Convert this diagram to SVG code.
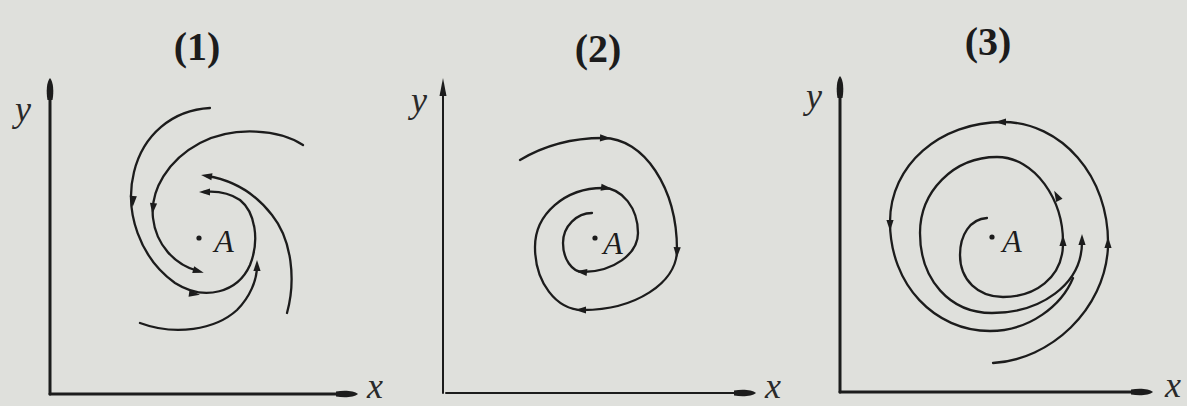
<svg xmlns="http://www.w3.org/2000/svg" xmlns:xlink="http://www.w3.org/1999/xlink" width="1187" height="406" viewBox="0 0 1187 406">
<style>
.bg{fill:#dfe0dc}
.axis{stroke:#1c1c1c;stroke-width:3;fill:none;stroke-linecap:round}
.axis.thin{stroke-width:2}
.traj{stroke:#1c1c1c;stroke-width:2.3;fill:none;stroke-linecap:round}
.ink{fill:#1c1c1c}
.title{font-family:"Liberation Serif",serif;font-weight:bold;font-size:40px;fill:#1c1c1c;text-anchor:middle}
.lab{font-family:"Liberation Serif",serif;font-style:italic;font-size:36px;fill:#2a2a2a;text-anchor:middle}
.pt{font-family:"Liberation Serif",serif;font-style:italic;font-size:32px;fill:#1c1c1c;text-anchor:middle}
</style>
<defs>
<path id="ah" d="M6,0 L-5,-3.6 L-5,3.6 Z" fill="#1c1c1c"/>
<path id="axh" d="M6,0 C2,-3.5 -8,-4 -16,-2.5 L-16,2.5 C-8,4 2,3.5 6,0 Z" fill="#1c1c1c"/>
<path id="axt" d="M6,0 L-12,-3.5 L-12,3.5 Z" fill="#1c1c1c"/>
</defs>
<rect class="bg" x="0" y="0" width="1187" height="406"/>

<g id="panel1">
<text class="title" x="197" y="60">(1)</text>
<path class="axis" d="M50,394 L50,92"/>
<use href="#axh" transform="translate(50,84) rotate(-90)"/>
<path class="axis" d="M50,394 L340,394"/>
<use href="#axh" transform="translate(352,394)"/>
<text class="lab" x="23" y="121">y</text>
<text class="lab" x="375" y="398">x</text>
<circle class="ink" cx="199" cy="238" r="2.6"/>
<text class="pt" x="224" y="252">A</text>
<g id="traj1">
<path class="traj" d="M210,108 C172,110 143,135 134,172 C124,212 140,258 175,283 C205,302 238,292 250,265 C260,240 255,212 240,200 C228,192 215,191 204,192"/>
<path class="traj" d="M303,145 C280,130 235,125 200,143 C168,160 150,190 153,218 C156,245 175,265 198,271"/>
<path class="traj" d="M287,313 C296,280 292,240 272,215 C255,193 232,180 207,176"/>
<path class="traj" d="M140,323 C175,336 215,330 237,310 C250,297 257,280 257,266"/>
<use href="#ah" transform="translate(133,201) rotate(93)"/>
<use href="#ah" transform="translate(194,294) rotate(8)"/>
<use href="#ah" transform="translate(205,192) rotate(180)"/>
<use href="#ah" transform="translate(153,208) rotate(96)"/>
<use href="#ah" transform="translate(198,271) rotate(16)"/>
<use href="#ah" transform="translate(207,176) rotate(189)"/>
<use href="#ah" transform="translate(257,266) rotate(-90)"/>
</g>
</g>

<g id="panel2">
<text class="title" x="598" y="62">(2)</text>
<path class="axis thin" d="M443,393 L443,92"/>
<use href="#axt" transform="translate(443,84) rotate(-90)"/>
<path class="axis thin" d="M446,393 L735,393"/>
<use href="#axh" transform="translate(750,393)"/>
<text class="lab" x="419" y="112">y</text>
<text class="lab" x="773" y="398">x</text>
<circle class="ink" cx="595" cy="238" r="2.6"/>
<text class="pt" x="613" y="254">A</text>
<g id="traj2">
<path class="traj" d="M520,160 C545,145 575,138 603,138 C644,138 677,188 677,250 C677,283 635,310 583,310 C556,310 535,282 535,247 C535,214 565,188 603,188 C622,188 638,208 638,233 C638,254 613,272 583,272 C572,272 563,259 563,243 C563,226 577,213 592,213"/>
<use href="#ah" transform="translate(605,138) rotate(2)"/>
<use href="#ah" transform="translate(677,252) rotate(92)"/>
<use href="#ah" transform="translate(581,310) rotate(180)"/>
<use href="#ah" transform="translate(606,188) rotate(8)"/>
<use href="#ah" transform="translate(582,272) rotate(186)"/>
</g>
</g>

<g id="panel3">
<text class="title" x="988" y="55">(3)</text>
<path class="axis" d="M840,392 L840,90"/>
<use href="#axh" transform="translate(840,82) rotate(-90)"/>
<path class="axis" d="M840,392 L1135,392"/>
<use href="#axh" transform="translate(1147,392)"/>
<text class="lab" x="814" y="108">y</text>
<text class="lab" x="1173" y="397">x</text>
<circle class="ink" cx="992" cy="237" r="2.6"/>
<text class="pt" x="1012" y="252">A</text>
<g id="traj3">
<path class="traj" d="M987,218 C970,219 960,235 960,255 C960,280 978,297 1003,297 C1035,297 1062,278 1063,245 C1064,200 1035,157 997,157 C953,157 920,192 920,233 C920,280 950,313 992,313 C1040,313 1082,285 1082,242"/>
<path class="traj" d="M993,363 C1050,360 1105,310 1108,247 C1110,175 1060,122 1003,122 C940,122 890,165 890,222 C890,285 935,331 990,331 C1030,331 1062,305 1073,278"/>
<use href="#ah" transform="translate(1063,241) rotate(-90)"/>
<use href="#ah" transform="translate(1057,196) rotate(-118)"/>
<use href="#ah" transform="translate(1082,240) rotate(-90)"/>
<use href="#ah" transform="translate(1108,243) rotate(-90)"/>
<use href="#ah" transform="translate(1001,122) rotate(180)"/>
<use href="#ah" transform="translate(890,225) rotate(90)"/>
</g>
</g>
</svg>
